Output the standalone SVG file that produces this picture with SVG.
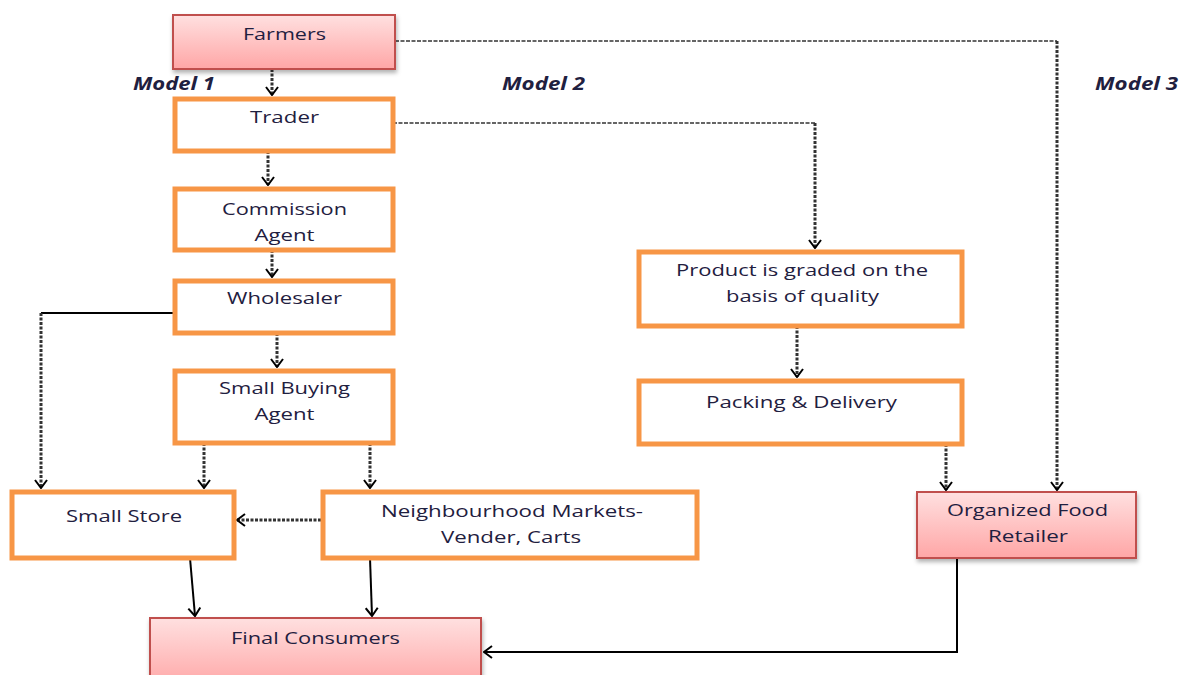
<svg xmlns="http://www.w3.org/2000/svg" width="1181" height="675" viewBox="0 0 1181 675">
<defs>
<linearGradient id="pink" x1="0" y1="0" x2="0" y2="1">
<stop offset="0" stop-color="#ffe0e0"/>
<stop offset="1" stop-color="#ffa6a6"/>
</linearGradient>
<filter id="sh" x="-10%" y="-10%" width="130%" height="140%">
<feDropShadow dx="1" dy="3" stdDeviation="2" flood-color="#000" flood-opacity="0.3"/>
</filter>
<marker id="ah" viewBox="0 0 10 14" refX="9" refY="7" markerWidth="10" markerHeight="14" markerUnits="userSpaceOnUse" orient="auto">
<path d="M1,1 L9,7 L1,13" fill="none" stroke="#000" stroke-width="2"/>
</marker>
</defs>
<style>
.pk{fill:url(#pink);stroke:#c0504d;stroke-width:2;filter:url(#sh)}
.or{fill:#fff;stroke:#f79646;stroke-width:5}
.t{font-family:"Open Sans","Liberation Sans",sans-serif;font-size:17px;fill:#1f2040;text-anchor:middle}
.m{font-family:"Open Sans","Liberation Sans",sans-serif;font-size:17px;font-style:italic;font-weight:bold;fill:#1f2040}
.d{fill:none;stroke:#333;stroke-width:3;stroke-dasharray:3,1.5}
.dt{fill:none;stroke:#333;stroke-width:1.5;stroke-dasharray:4,1.5}
.s{fill:none;stroke:#000;stroke-width:2}
</style>
<rect width="1181" height="675" fill="#fff"/>
<g id="connectors">
<path class="d" d="M272,69 V95" marker-end="url(#ah)"/>
<path class="dt" d="M395,41 H1057"/>
<path class="d" d="M1057,41 V490" marker-end="url(#ah)"/>
<path class="dt" d="M393,123 H815"/>
<path class="d" d="M815,123 V248" marker-end="url(#ah)"/>
<path class="d" d="M268,151 V185" marker-end="url(#ah)"/>
<path class="d" d="M272,250 V277" marker-end="url(#ah)"/>
<path class="d" d="M277,333 V367" marker-end="url(#ah)"/>
<path class="s" stroke-width="1.5" d="M173,313 H41"/>
<path class="d" d="M41,313 V488" marker-end="url(#ah)"/>
<path class="d" d="M204,443 V488" marker-end="url(#ah)"/>
<path class="d" d="M370,443 V488" marker-end="url(#ah)"/>
<path class="d" stroke-width="2" d="M321,520 H237" marker-end="url(#ah)"/>
<path class="s" d="M190,558 L195,616" marker-end="url(#ah)"/>
<path class="s" d="M370,558 L372,616" marker-end="url(#ah)"/>
<path class="d" d="M797,326 V377" marker-end="url(#ah)"/>
<path class="d" d="M946,444 V490" marker-end="url(#ah)"/>
<path class="s" stroke-width="2.5" d="M957,558 V652 H484" marker-end="url(#ah)"/>
</g>
<g id="farmers"><rect class="pk" x="173" y="15" width="222" height="54"/><text class="t" x="284.5" y="40" textLength="83" lengthAdjust="spacingAndGlyphs">Farmers</text></g>
<g id="trader"><rect class="or" x="175" y="99" width="218" height="52"/><text class="t" x="284.5" y="123" textLength="69" lengthAdjust="spacingAndGlyphs">Trader</text></g>
<g id="commission"><rect class="or" x="175" y="189" width="218" height="61"/><text class="t" x="284.5" y="215" textLength="125" lengthAdjust="spacingAndGlyphs">Commission</text><text class="t" x="284.5" y="241" textLength="60" lengthAdjust="spacingAndGlyphs">Agent</text></g>
<g id="wholesaler"><rect class="or" x="175" y="281" width="218" height="52"/><text class="t" x="284.5" y="304" textLength="115" lengthAdjust="spacingAndGlyphs">Wholesaler</text></g>
<g id="smallbuying"><rect class="or" x="175" y="371" width="218" height="72"/><text class="t" x="284.5" y="394" textLength="131" lengthAdjust="spacingAndGlyphs">Small Buying</text><text class="t" x="284.5" y="420" textLength="60" lengthAdjust="spacingAndGlyphs">Agent</text></g>
<g id="smallstore"><rect class="or" x="12" y="492" width="222" height="66"/><text class="t" x="124" y="522" textLength="116" lengthAdjust="spacingAndGlyphs">Small Store</text></g>
<g id="neighbourhood"><rect class="or" x="323" y="492" width="374" height="66"/><text class="t" x="512" y="517" textLength="262" lengthAdjust="spacingAndGlyphs">Neighbourhood Markets-</text><text class="t" x="511" y="543" textLength="140" lengthAdjust="spacingAndGlyphs">Vender, Carts</text></g>
<g id="final"><rect class="pk" x="150" y="618" width="331" height="70"/><text class="t" x="315.5" y="644" textLength="169" lengthAdjust="spacingAndGlyphs">Final Consumers</text></g>
<g id="graded"><rect class="or" x="639" y="252" width="323" height="74"/><text class="t" x="802" y="276" textLength="252" lengthAdjust="spacingAndGlyphs">Product is graded on the</text><text class="t" x="802.5" y="302" textLength="153" lengthAdjust="spacingAndGlyphs">basis of quality</text></g>
<g id="packing"><rect class="or" x="639" y="381" width="323" height="63"/><text class="t" x="801.5" y="408" textLength="191" lengthAdjust="spacingAndGlyphs">Packing &amp; Delivery</text></g>
<g id="retailer"><rect class="pk" x="917" y="492" width="219" height="66"/><text class="t" x="1027.5" y="516" textLength="161" lengthAdjust="spacingAndGlyphs">Organized Food</text><text class="t" x="1028" y="542" textLength="80" lengthAdjust="spacingAndGlyphs">Retailer</text></g>
<g id="labels">
<text class="m" x="133" y="90" textLength="82" lengthAdjust="spacingAndGlyphs">Model 1</text>
<text class="m" x="502" y="90" textLength="83" lengthAdjust="spacingAndGlyphs">Model 2</text>
<text class="m" x="1095" y="90" textLength="83" lengthAdjust="spacingAndGlyphs">Model 3</text>
</g>
</svg>
